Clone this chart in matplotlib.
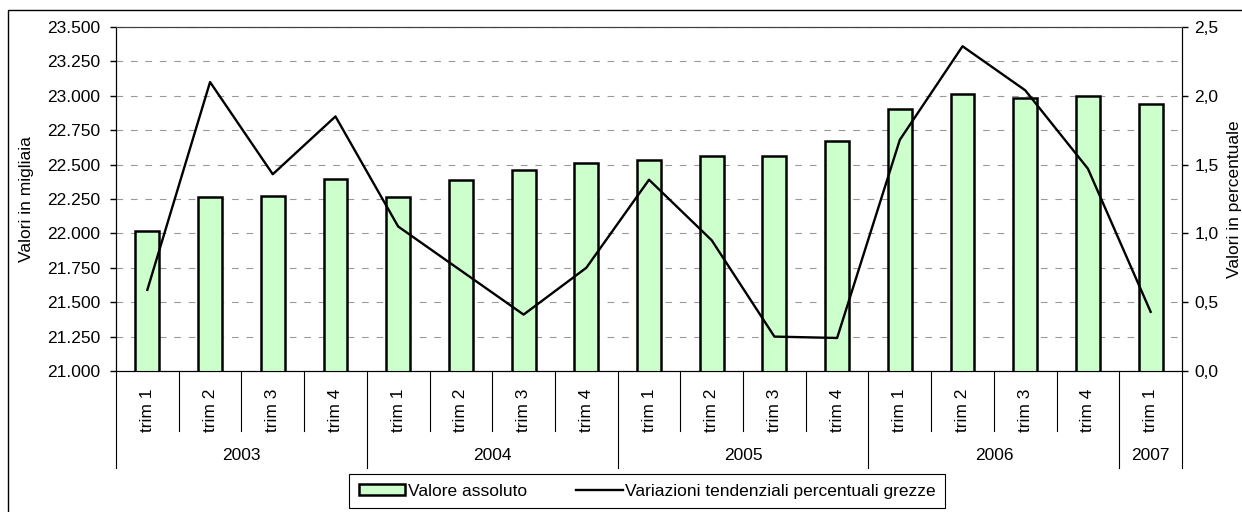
import matplotlib
matplotlib.use("Agg")
import matplotlib.pyplot as plt
import matplotlib.transforms as mtransforms
from matplotlib.ticker import FuncFormatter, MultipleLocator
from matplotlib.patches import Patch, Rectangle
from matplotlib.lines import Line2D

plt.rcParams['font.family'] = ['Liberation Sans', 'DejaVu Sans']
plt.rcParams['font.size'] = 12.5

# dati
anni = ['2003', '2004', '2005', '2006', '2007']
trim_per_anno = [4, 4, 4, 4, 1]
trimestri = ['trim 1', 'trim 2', 'trim 3', 'trim 4'] * 4 + ['trim 1']
valore_assoluto = [22020, 22268, 22274, 22397, 22266, 22388, 22460, 22511, 22537,
                   22564, 22564, 22668, 22905, 23012, 22983, 22997, 22937]
variazioni = [0.59, 2.10, 1.43, 1.85, 1.05, 0.73, 0.41, 0.75, 1.39,
              0.95, 0.25, 0.24, 1.68, 2.36, 2.04, 1.47, 0.43]

W, H = 1242, 512
fig = plt.figure(figsize=(W / 100, H / 100), dpi=100)
ax = fig.add_axes([116 / W, 1 - 371 / H, (1182 - 116) / W, 344 / H])

x = list(range(len(trimestri)))
ax.bar(x, valore_assoluto, width=0.38, color='#CCFFCC', edgecolor='black',
       linewidth=1.8, zorder=3)
ax.set_ylim(21000, 23500)
ax.set_xlim(-0.5, len(x) - 0.5)
ax.yaxis.set_major_locator(MultipleLocator(250))
ax.yaxis.set_major_formatter(FuncFormatter(lambda v, p: f"{int(v):,}".replace(",", ".")))
ax.yaxis.grid(True, linestyle=(0, (6, 7)), color='#999999', linewidth=0.8)
ax.set_axisbelow(True)
ax.set_xticks([])
ax.tick_params(axis='y', direction='out', length=4.5, width=1, pad=7)

ax2 = ax.twinx()
ax2.plot(x, variazioni, color='black', linewidth=1.7, zorder=4)
ax2.set_ylim(0, 2.5)
ax2.yaxis.set_major_locator(MultipleLocator(0.5))
ax2.yaxis.set_major_formatter(FuncFormatter(lambda v, p: f"{v:.1f}".replace(".", ",")))
ax2.tick_params(axis='y', direction='out', length=4.5, width=1, pad=4.5)

for a in (ax, ax2):
    a.spines['top'].set_color('#404040')
    a.spines['left'].set_color('black')
    a.spines['right'].set_color('black')
    a.spines['bottom'].set_color('black')

# etichette asse categorie a due livelli
trans = mtransforms.blended_transform_factory(ax.transData, ax.transAxes)
confini = [0]
for n in trim_per_anno:
    confini.append(confini[-1] + n)
for i in range(len(x) + 1):
    basso = -0.282 if i in confini else -0.174
    ax.plot([i - 0.5, i - 0.5], [0, basso], color='black', lw=0.8,
            transform=trans, clip_on=False)
for i, t in enumerate(trimestri):
    ax.text(i, -0.113, t, rotation=90, ha='center', va='center', transform=trans)
for k, anno in enumerate(anni):
    centro = (confini[k] + confini[k + 1]) / 2 - 0.5
    ax.text(centro, -0.246, anno, ha='center', va='center', transform=trans)

fig.text(26 / W, 1 - 199 / H, 'Valori in migliaia', rotation=90, ha='center', va='center')
fig.text(1234 / W, 1 - 199 / H, 'Valori in percentuale', rotation=90, ha='center', va='center')

handles = [Patch(facecolor='#CCFFCC', edgecolor='black', linewidth=1.8, label='Valore assoluto'),
           Line2D([], [], color='black', linewidth=1.7,
                  label='Variazioni tendenziali percentuali grezze')]
leg = fig.legend(handles=handles, loc='upper left', bbox_to_anchor=(349 / W, 1 - 474 / H),
                 ncol=2, frameon=True, fancybox=False, edgecolor='black', framealpha=1,
                 borderpad=0.55, handlelength=2.7, handleheight=0.55,
                 handletextpad=0.15, columnspacing=2.8, borderaxespad=0)
leg.get_frame().set_linewidth(0.8)

# bordo del grafico
fig.add_artist(Rectangle((8 / W, -0.1), 1.2, 1 - 10 / H + 0.1, transform=fig.transFigure,
                         fill=False, edgecolor='black', linewidth=1))

fig.savefig('out.png', dpi=100)
